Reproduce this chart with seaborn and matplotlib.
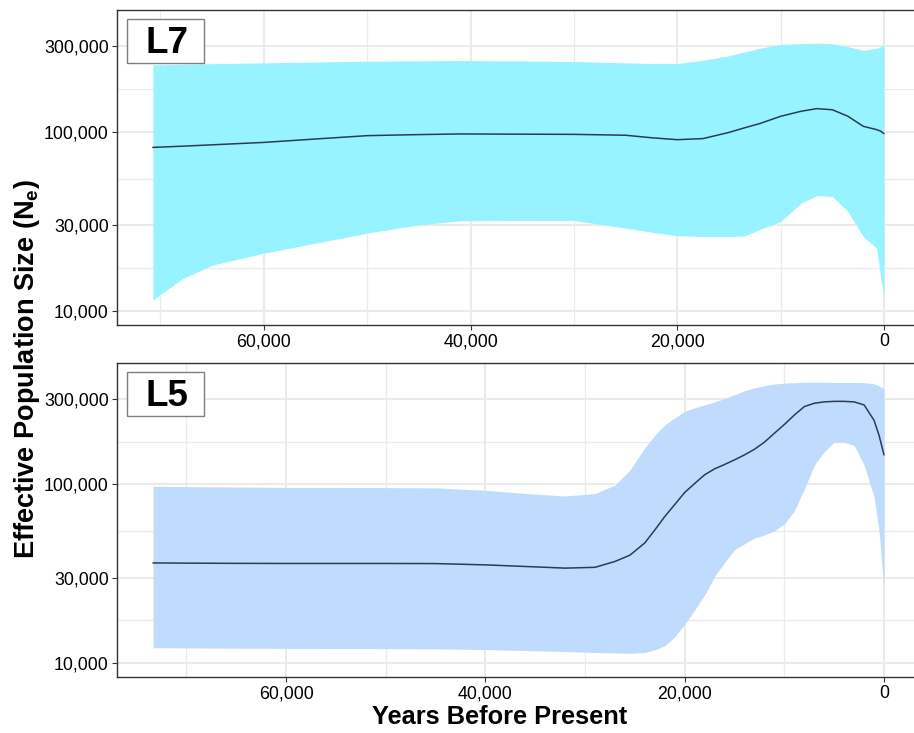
"""Skyline plots of effective population size for L7 and L5."""
import matplotlib
matplotlib.use("Agg")
import matplotlib.pyplot as plt
import matplotlib.ticker as mticker
from matplotlib.patches import Rectangle
import seaborn as sns
import numpy as np

# ── data ─────────────────────────────────────────────────────────────────────

l7_years = [70730, 67800, 64900, 60000, 55000, 50000, 45000, 41000, 35000, 30000,
            25000, 22500, 20000, 17500, 15000, 13500, 12000, 10000, 8000, 6500,
            5000, 3500, 2000, 700, 300, 0]
l7_median = [81700, 83000, 84500, 87100, 91000, 95000, 96300, 97100, 96800, 96600,
             95500, 92500, 90200, 91500, 99000, 105000, 111000, 121800, 130000, 134400,
             132500, 122000, 107100, 102600, 100500, 97500]
l7_upper = [235800, 237500, 239500, 242000, 244500, 247100, 248500, 249300, 248000, 246000,
            242000, 240000, 240000, 250000, 265000, 278000, 292000, 306200, 309500, 311400,
            309000, 298000, 284000, 292000, 298000, 305100]
l7_lower = [11520, 15230, 18070, 21010, 23890, 27170, 30220, 31820, 32000, 31940,
            29000, 27500, 26300, 26000, 26000, 26200, 28500, 31530, 40000, 44000,
            43500, 36000, 26010, 22400, 15100, 12020]

l5_years = [73360, 70000, 65000, 60000, 55000, 50000, 45000, 40000, 35000, 32000,
            29000, 27000, 25500, 24000, 23000, 22000, 21000, 20000, 19000, 18000,
            17000, 16000, 15000, 14000, 13000, 12000, 11000, 10000, 9000, 8000,
            7000, 6000, 5000, 4000, 3000, 2000, 1000, 500, 0]
l5_median = [36300, 36200, 36100, 36050, 36050, 36050, 36000, 35400, 34500, 33950,
             34300, 37000, 40100, 47000, 55500, 66000, 77000, 90000, 101000, 113000,
             122000, 129000, 137000, 146000, 157000, 172000, 193000, 216000, 244000, 272000,
             284000, 289000, 291000, 291000, 289000, 278000, 228000, 188000, 146000]
l5_upper = [97450, 97000, 96500, 96000, 96000, 95800, 95500, 92500, 88000, 86000,
            88700, 99000, 120000, 160000, 188000, 215000, 235000, 256000, 268000, 278000,
            289000, 302000, 317000, 334000, 346000, 356000, 364000, 368000, 370000, 372000,
            373000, 372000, 371000, 371000, 371000, 370000, 365000, 355000, 342000]
l5_lower = [12180, 12150, 12100, 12080, 12060, 12040, 12000, 11900, 11700, 11600,
            11450, 11380, 11330, 11450, 11850, 12500, 14000, 16500, 19800, 24000,
            30500, 36500, 43000, 46500, 50000, 52000, 55000, 60000, 71000, 94000,
            128000, 152000, 172000, 172000, 165000, 128000, 85000, 55000, 25500]

y_ticks = [10000, 30000, 100000, 300000]
x_ticks = [60000, 40000, 20000, 0]
x_minor = [70000, 50000, 30000, 10000]

# ── style ────────────────────────────────────────────────────────────────────

sns.set_theme(style="white")
plt.rcParams["font.family"] = ["Liberation Sans", "DejaVu Sans"]
plt.rcParams["text.color"] = "black"
plt.rcParams["mathtext.fontset"] = "custom"
plt.rcParams["mathtext.rm"] = "Liberation Sans:bold"

W, H = 914, 733
fig = plt.figure(figsize=(W / 100, H / 100), dpi=100)


def px_axes(left, top, right, bottom):
    return fig.add_axes([left / W, 1 - bottom / H, (right - left) / W, (bottom - top) / H])


def draw_panel(ax, years, med, lo, hi, fill, label, xlim):
    ax.fill_between(years, lo, hi, color=fill, lw=0, zorder=2)
    sns.lineplot(x=years, y=med, ax=ax, color="#2a3c52", lw=1.1, zorder=3)
    ax.set_yscale("log")
    ax.set_ylim(8350, 477000)
    ax.set_xlim(*xlim)

    ax.yaxis.set_major_locator(mticker.FixedLocator(y_ticks))
    ax.yaxis.set_minor_locator(mticker.FixedLocator(
        [np.sqrt(a * b) for a, b in zip(y_ticks[:-1], y_ticks[1:])]))
    ax.yaxis.set_major_formatter(mticker.StrMethodFormatter("{x:,.0f}"))
    ax.yaxis.set_minor_formatter(mticker.NullFormatter())
    ax.xaxis.set_major_locator(mticker.FixedLocator(x_ticks))
    ax.xaxis.set_minor_locator(mticker.FixedLocator(x_minor))
    ax.xaxis.set_major_formatter(mticker.StrMethodFormatter("{x:,.0f}"))

    ax.grid(which="major", color="#ebebeb", lw=1.5, zorder=0)
    ax.grid(which="minor", color="#ebebeb", lw=0.9, zorder=0)
    ax.set_axisbelow(True)
    ax.tick_params(which="major", length=3.5, width=0.8, color="#333333",
                   labelsize=12.8, labelcolor="black", pad=2.5,
                   bottom=True, left=True)
    ax.tick_params(which="minor", length=0)
    for side in ["top", "bottom", "left", "right"]:
        ax.spines[side].set_color("#333333")
        ax.spines[side].set_linewidth(1.0)
    ax.set_xlabel("")
    ax.set_ylabel("")

    ax.add_patch(Rectangle((0.0125, 0.831), 0.0964, 0.14, transform=ax.transAxes,
                           facecolor="white", edgecolor="#7f7f7f", lw=1.0, zorder=5))
    ax.text(0.062, 0.8635, label, transform=ax.transAxes, ha="center", va="baseline",
            fontsize=26.5, fontweight="bold", color="black", zorder=6)


ax_top = px_axes(117, 10, 916, 325)
draw_panel(ax_top, l7_years, l7_median, l7_lower, l7_upper, "#97f3ff", "L7",
           (74200, -3100))

ax_bot = px_axes(117, 363, 916, 677)
draw_panel(ax_bot, l5_years, l5_median, l5_lower, l5_upper, "#bfdbfd", "L5",
           (76970, -3210))

fig.text(27 / W, 1 - 369 / H, r"Effective Population Size (N$_\mathrm{e}$)",
         rotation=90, ha="center", va="center", fontsize=19.5, fontweight="bold")
fig.text(500 / W, 1 - 724 / H, "Years Before Present", ha="center", va="baseline",
         fontsize=18.3, fontweight="bold")

fig.savefig("out.png", dpi=100)
plt.close(fig)
